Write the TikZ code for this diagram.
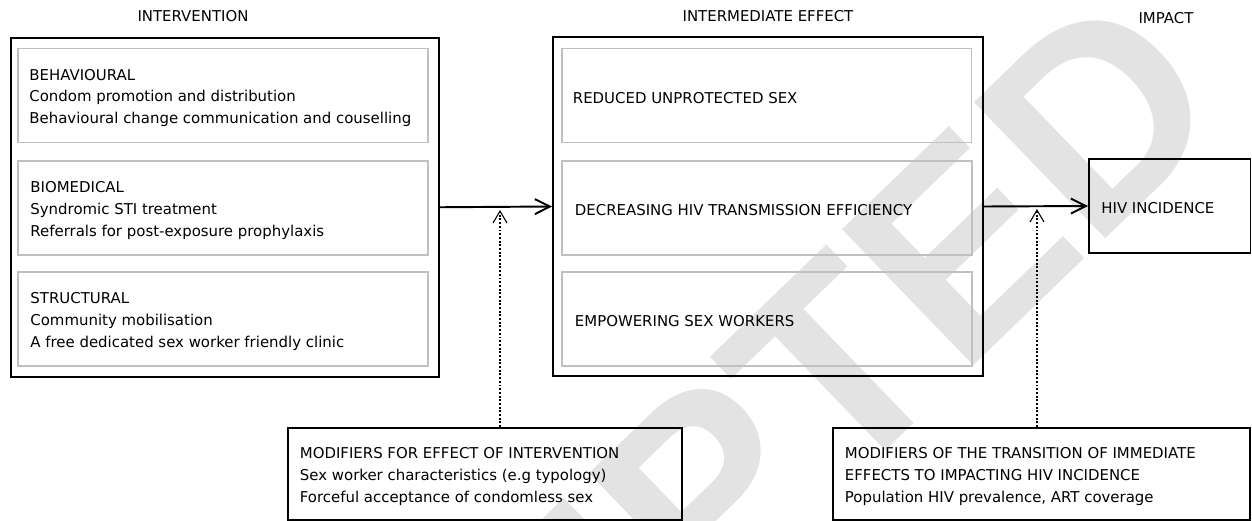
\documentclass[tikz,border=0pt]{standalone}
\usepackage{fontspec}
\setmainfont{DejaVu Sans}
\newfontfamily\markfont{Liberation Sans}
\usetikzlibrary{arrows.meta}
\definecolor{boxgray}{RGB}{192,192,192}
\definecolor{markgray}{RGB}{227,227,227}

\begin{document}
\begin{tikzpicture}[x=0.02cm, y=-0.02cm, font=\fontsize{8.5}{12.4}\selectfont,
	outerbox/.style={draw, line width=1.1pt, inner sep=0pt},
	innerbox/.style={draw=boxgray, line width=1.1pt, inner sep=0pt, minimum width=8.2cm, minimum height=1.88cm},
	boxtext/.style={anchor=west, align=left, inner sep=0pt, yshift=-0.05cm},
	heading/.style={inner sep=0pt},
	flow/.style={line width=1.1pt, -{Straight Barb[length=0.3cm, width=0.3cm]}},
	modflow/.style={line width=1.1pt, densely dotted, -{Straight Barb[length=0.24cm, width=0.28cm, line width=0.6pt]}}]
	\useasboundingbox (0, 0) rectangle (1252, 521);
	% watermark
	\begin{scope}
		\clip (0, 0) rectangle (1252, 521);
		\node[rotate=44, anchor=base west, inner sep=0pt, text=markgray, font=\markfont\bfseries\fontsize{156.5}{156.5}\selectfont] (stamp) at (147, 1164) {ACCEPTED};
	\end{scope}
	% headings
	\node[heading] (hint) at (193, 16) {INTERVENTION};
	\node[heading] (heff) at (768, 16) {INTERMEDIATE EFFECT};
	\node[heading] (himp) at (1166, 18) {IMPACT};
	% intervention
	\node[outerbox, minimum width=8.57cm, minimum height=6.79cm] (intv) at (224.75, 207.25) {};
	\node[innerbox] (beh) at (223, 95.5) {};
	\node[innerbox] (bio) at (223, 208) {};
	\node[innerbox] (str) at (223, 319) {};
	\node[boxtext] (behtext) at ([xshift=0.24cm]beh.west) {BEHAVIOURAL\\Condom promotion and distribution\\Behavioural change communication and couselling};
	\node[boxtext] (biotext) at ([xshift=0.26cm]bio.west) {BIOMEDICAL\\Syndromic STI treatment\\Referrals for post-exposure prophylaxis};
	\node[boxtext] (strtext) at ([xshift=0.26cm]str.west) {STRUCTURAL\\Community mobilisation\\A free dedicated sex worker friendly clinic};
	% intermediate effect
	\node[outerbox, minimum width=8.6cm, minimum height=6.78cm] (effect) at (768, 206.5) {};
	\node[innerbox] (unprot) at (766.5, 95.5) {};
	\node[innerbox] (trans) at (767, 208) {};
	\node[innerbox] (empow) at (767, 319) {};
	\node[boxtext] (unprottext) at ([xshift=0.24cm]unprot.west) {REDUCED UNPROTECTED SEX};
	\node[boxtext] (transtext) at ([xshift=0.27cm]trans.west) {DECREASING HIV TRANSMISSION EFFICIENCY};
	\node[boxtext] (empowtext) at ([xshift=0.27cm]empow.west) {EMPOWERING SEX WORKERS};
	% impact
	\node[outerbox, minimum width=3.23cm, minimum height=1.88cm] (hiv) at (1169.75, 206) {};
	\node[boxtext] (hivtext) at ([xshift=0.26cm]hiv.west) {HIV INCIDENCE};
	% modifiers
	\node[outerbox, minimum width=7.88cm, minimum height=1.84cm] (modint) at (485, 474) {};
	\node[outerbox, minimum width=8.34cm, minimum height=1.84cm] (modtr) at (1041.5, 474) {};
	\node[boxtext] (modinttext) at ([xshift=0.25cm]modint.west) {MODIFIERS FOR EFFECT OF INTERVENTION\\Sex worker characteristics (e.g typology)\\Forceful acceptance of condomless sex};
	\node[boxtext] (modtrtext) at ([xshift=0.25cm]modtr.west) {MODIFIERS OF THE TRANSITION OF IMMEDIATE\\EFFECTS TO IMPACTING HIV INCIDENCE\\Population HIV prevalence, ART coverage};
	% arrows
	\draw[flow] (intv.east) -- (effect.west);
	\draw[flow] (effect.east) -- (hiv.west);
	\coordinate (m1) at (500, 210);
	\coordinate (m2) at (1037, 209);
	\draw[modflow] (modint.north -| m1) -- (m1);
	\draw[modflow] (modtr.north -| m2) -- (m2);
\end{tikzpicture}
\end{document}
